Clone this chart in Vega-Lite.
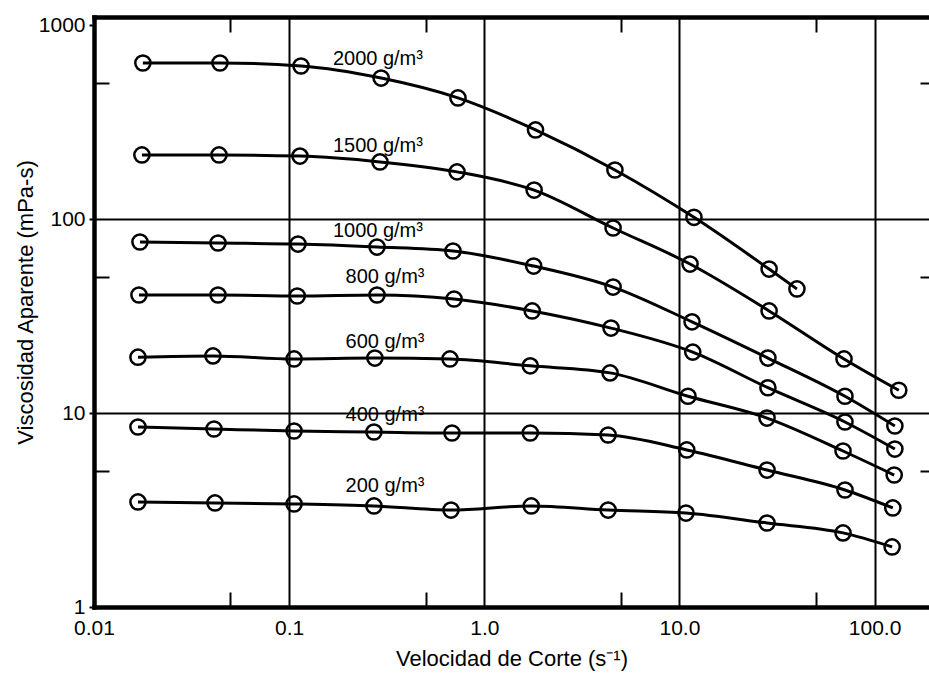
{
  "$schema": "https://vega.github.io/schema/vega-lite/v6.json",
  "width": 835,
  "height": 590,
  "autosize": {"type": "none"},
  "padding": {"left": 94, "top": 17, "right": 0, "bottom": 66},
  "background": "white",
  "config": {
    "view": {"stroke": null},
    "font": "Liberation Sans",
    "axis": {
      "domainColor": "black",
      "domainWidth": 4.5,
      "domainCap": "square",
      "tickColor": "black",
      "tickWidth": 2,
      "gridColor": "black",
      "gridWidth": 2,
      "labelColor": "black",
      "labelFont": "Liberation Sans",
      "labelFontSize": 21,
      "labelFlush": false,
      "labelOverlap": false,
      "titleFont": "Liberation Sans",
      "titleFontSize": 22,
      "titleFontWeight": "normal",
      "titleColor": "black"
    }
  },
  "datasets": {
    "curves": [
      {"s": "2000", "x": 0.0178, "y": 637},
      {"s": "2000", "x": 0.0442, "y": 637},
      {"s": "2000", "x": 0.115, "y": 615},
      {"s": "2000", "x": 0.296, "y": 533},
      {"s": "2000", "x": 0.733, "y": 421},
      {"s": "2000", "x": 1.83, "y": 288},
      {"s": "2000", "x": 4.67, "y": 179},
      {"s": "2000", "x": 11.87, "y": 102},
      {"s": "2000", "x": 28.8, "y": 55.2},
      {"s": "2000", "x": 40.0, "y": 43.6},
      {"s": "1500", "x": 0.0176, "y": 214},
      {"s": "1500", "x": 0.0437, "y": 214},
      {"s": "1500", "x": 0.1136, "y": 211},
      {"s": "1500", "x": 0.292, "y": 197},
      {"s": "1500", "x": 0.725, "y": 175},
      {"s": "1500", "x": 1.80, "y": 141},
      {"s": "1500", "x": 4.57, "y": 89.9},
      {"s": "1500", "x": 11.33, "y": 58.6},
      {"s": "1500", "x": 28.8, "y": 33.6},
      {"s": "1500", "x": 69.7, "y": 19.0},
      {"s": "1500", "x": 133, "y": 13.1},
      {"s": "1000", "x": 0.0172, "y": 76.1},
      {"s": "1000", "x": 0.0432, "y": 75.2},
      {"s": "1000", "x": 0.111, "y": 74.3},
      {"s": "1000", "x": 0.282, "y": 71.7},
      {"s": "1000", "x": 0.691, "y": 68.4},
      {"s": "1000", "x": 1.79, "y": 57.2},
      {"s": "1000", "x": 4.57, "y": 44.6},
      {"s": "1000", "x": 11.6, "y": 29.5},
      {"s": "1000", "x": 28.4, "y": 19.2},
      {"s": "1000", "x": 70.5, "y": 12.2},
      {"s": "1000", "x": 127, "y": 8.57},
      {"s": "800", "x": 0.0170, "y": 40.6},
      {"s": "800", "x": 0.0432, "y": 40.6},
      {"s": "800", "x": 0.110, "y": 40.1},
      {"s": "800", "x": 0.282, "y": 40.6},
      {"s": "800", "x": 0.700, "y": 38.7},
      {"s": "800", "x": 1.76, "y": 33.6},
      {"s": "800", "x": 4.46, "y": 27.4},
      {"s": "800", "x": 11.7, "y": 20.6},
      {"s": "800", "x": 28.4, "y": 13.5},
      {"s": "800", "x": 70.5, "y": 8.99},
      {"s": "800", "x": 127, "y": 6.52},
      {"s": "600", "x": 0.0168, "y": 19.4},
      {"s": "600", "x": 0.0407, "y": 19.7},
      {"s": "600", "x": 0.106, "y": 19.0},
      {"s": "600", "x": 0.275, "y": 19.2},
      {"s": "600", "x": 0.667, "y": 19.0},
      {"s": "600", "x": 1.72, "y": 17.5},
      {"s": "600", "x": 4.41, "y": 16.1},
      {"s": "600", "x": 11.06, "y": 12.2},
      {"s": "600", "x": 28.1, "y": 9.42},
      {"s": "600", "x": 68.9, "y": 6.37},
      {"s": "600", "x": 126, "y": 4.79},
      {"s": "400", "x": 0.0168, "y": 8.47},
      {"s": "400", "x": 0.0412, "y": 8.27},
      {"s": "400", "x": 0.106, "y": 8.08},
      {"s": "400", "x": 0.272, "y": 7.98},
      {"s": "400", "x": 0.683, "y": 7.89},
      {"s": "400", "x": 1.72, "y": 7.89},
      {"s": "400", "x": 4.31, "y": 7.70},
      {"s": "400", "x": 10.9, "y": 6.45},
      {"s": "400", "x": 28.1, "y": 5.08},
      {"s": "400", "x": 70.5, "y": 4.01},
      {"s": "400", "x": 124, "y": 3.24},
      {"s": "200", "x": 0.0168, "y": 3.48},
      {"s": "200", "x": 0.0417, "y": 3.44},
      {"s": "200", "x": 0.106, "y": 3.40},
      {"s": "200", "x": 0.272, "y": 3.32},
      {"s": "200", "x": 0.675, "y": 3.16},
      {"s": "200", "x": 1.74, "y": 3.32},
      {"s": "200", "x": 4.31, "y": 3.16},
      {"s": "200", "x": 10.8, "y": 3.05},
      {"s": "200", "x": 28.1, "y": 2.71},
      {"s": "200", "x": 68.9, "y": 2.41},
      {"s": "200", "x": 123, "y": 2.04}
    ],
    "labels": [
      {"label": "2000 g/m³", "x": 0.285, "y": 622},
      {"label": "1500 g/m³", "x": 0.285, "y": 221.5},
      {"label": "1000 g/m³", "x": 0.285, "y": 80.8},
      {"label": "800 g/m³", "x": 0.31, "y": 46.8},
      {"label": "600 g/m³", "x": 0.31, "y": 21.6},
      {"label": "400 g/m³", "x": 0.31, "y": 9.10},
      {"label": "200 g/m³", "x": 0.31, "y": 3.92}
    ]
  },
  "layer": [
    {
      "data": {"name": "curves"},
      "mark": {"type": "line", "interpolate": "monotone", "color": "black", "strokeWidth": 3},
      "encoding": {
        "x": {
          "field": "x", "type": "quantitative",
          "scale": {"type": "log", "domain": [0.01, 190], "nice": false},
          "axis": {
            "orient": "bottom",
            "values": [0.01, 0.05, 0.1, 0.5, 1, 5, 10, 50, 100],
            "labelExpr": "datum.value == 0.01 ? '0.01' : datum.value == 0.1 ? '0.1' : datum.value == 1 ? '1.0' : datum.value == 10 ? '10.0' : datum.value == 100 ? '100.0' : ''",
            "grid": true,
            "gridOpacity": {"condition": {"test": "datum.value == 0.1 || datum.value == 1 || datum.value == 10 || datum.value == 100", "value": 1}, "value": 0},
            "tickSize": {"condition": {"test": "datum.value == 0.05 || datum.value == 0.5 || datum.value == 5 || datum.value == 50", "value": -15}, "value": 0},
            "labelPadding": 10,
            "title": "Velocidad de Corte (s⁻¹)",
            "titleBaseline": "alphabetic",
            "titleY": 58
          }
        },
        "y": {
          "field": "y", "type": "quantitative",
          "scale": {"type": "log", "domain": [1, 1100], "nice": false},
          "axis": {
            "orient": "left",
            "values": [1, 5, 10, 50, 100, 500, 1000],
            "labelExpr": "datum.value == 1 ? '1' : datum.value == 10 ? '10' : datum.value == 100 ? '100' : datum.value == 1000 ? '1000' : ''",
            "grid": true,
            "gridOpacity": {"condition": {"test": "datum.value == 10 || datum.value == 100", "value": 1}, "value": 0},
            "tickSize": {"condition": {"test": "datum.value == 5 || datum.value == 50 || datum.value == 500", "value": -15}, "value": 5},
            "labelPadding": 4,
            "title": "Viscosidad Aparente (mPa-s)",
            "titleBaseline": "alphabetic",
            "titleX": -62,
            "titleY": 285
          }
        },
        "detail": {"field": "s"}
      }
    },
    {
      "data": {"name": "curves"},
      "mark": {"type": "point", "shape": "circle", "filled": false, "color": "black", "strokeWidth": 2.5, "size": 230, "opacity": 1},
      "encoding": {
        "x": {
          "field": "x", "type": "quantitative",
          "axis": {
            "orient": "top",
            "values": [0.05, 0.5, 5, 50],
            "labels": false,
            "grid": false,
            "tickSize": -15,
            "title": null
          }
        },
        "y": {
          "field": "y", "type": "quantitative",
          "axis": {
            "orient": "right",
            "values": [5, 50, 500],
            "labels": false,
            "grid": false,
            "domain": false,
            "tickSize": -9,
            "title": null
          }
        }
      }
    },
    {
      "data": {"name": "labels"},
      "mark": {"type": "text", "fontSize": 20, "align": "center", "baseline": "alphabetic", "color": "black", "font": "Liberation Sans"},
      "encoding": {
        "x": {"field": "x", "type": "quantitative", "axis": null},
        "y": {"field": "y", "type": "quantitative", "axis": null},
        "text": {"field": "label"}
      }
    }
  ],
  "resolve": {"axis": {"x": "independent", "y": "independent"}}
}
